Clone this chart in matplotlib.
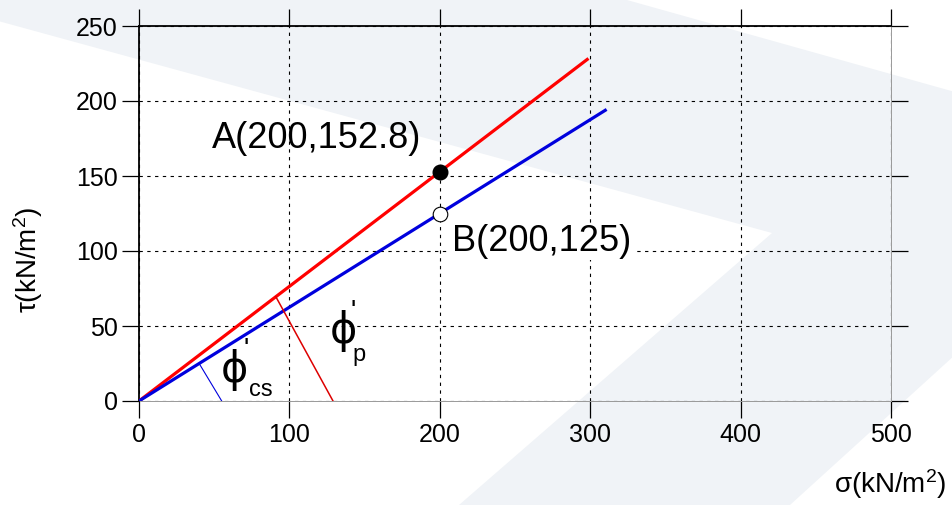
import matplotlib
matplotlib.use('Agg')
import matplotlib.pyplot as plt
from matplotlib.patches import Polygon

plt.rcParams['font.family'] = ['Liberation Sans', 'DejaVu Sans']
plt.rcParams['mathtext.fontset'] = 'custom'
plt.rcParams['mathtext.rm'] = 'Liberation Sans'
plt.rcParams['mathtext.it'] = 'Liberation Sans:italic'
plt.rcParams['mathtext.default'] = 'regular'

# failure envelopes (sigma, tau) in kN/m^2
peak_sigma = [0, 298]
peak_tau = [0, 227.7]
cs_sigma = [0, 310]
cs_tau = [0, 193.8]

# test points
point_A = (200, 152.8)
point_B = (200, 125)

# little strokes marking the friction angles
phi_p_sigma = [91, 129]
phi_p_tau = [69.5, 0]
phi_cs_sigma = [40, 55]
phi_cs_tau = [25, 0]

x_ticks = [0, 100, 200, 300, 400, 500]
y_ticks = [0, 50, 100, 150, 200, 250]

W, H = 952, 505
fig = plt.figure(figsize=(W / 100, H / 100), dpi=100)
fig.patch.set_facecolor('white')

# pale chevron in the background (pixel coords, y down)
chev = [(0, 0), (0, 21.5), (772, 233), (459, 505), (790, 505),
        (1176, 154), (627, 0)]
chev = [(px / W, 1 - py / H) for px, py in chev]
fig.patches.append(Polygon(chev, closed=True, transform=fig.transFigure,
                           facecolor='#f0f3f7', edgecolor='none', zorder=-1))

ax = fig.add_axes([139 / W, 1 - 401 / H, (891 - 139) / W, (401 - 26) / H])
ax.set_facecolor('none')
ax.set_xlim(0, 500)
ax.set_ylim(0, 250)

ax.set_xticks(x_ticks)
ax.set_yticks(y_ticks)
ax.tick_params(axis='both', which='both', direction='out', length=12.2,
               width=0.9, color='black', labelsize=18, pad=3,
               top=True, right=True, labeltop=False, labelright=False)
ax.tick_params(axis='x', pad=4)

ax.grid(True, color='black', linestyle=(0, (3, 4)), linewidth=0.8)
ax.set_axisbelow(True)
for side in ['top', 'left']:
    ax.spines[side].set_color('black')
    ax.spines[side].set_linewidth(1.3)
    ax.spines[side].set_zorder(2.6)
for side in ['bottom', 'right']:
    ax.spines[side].set_color('#999999')
    ax.spines[side].set_linewidth(0.7)

ax.plot(peak_sigma, peak_tau, color='#ff0000', lw=2.3, zorder=3)
ax.plot(cs_sigma, cs_tau, color='#0000dd', lw=2.3, zorder=3)
ax.plot(phi_p_sigma, phi_p_tau, color='#dd0000', lw=1.1, zorder=3)
ax.plot(phi_cs_sigma, phi_cs_tau, color='#0000dd', lw=0.8, zorder=3)

ax.plot(*point_A, 'o', ms=10.5, color='black', zorder=4)
ax.plot(*point_B, 'o', ms=10.5, mfc='white', mec='black', mew=0.8, zorder=4)

ax.text(48.5, 168.7, 'A(%d,%.1f)' % point_A, fontsize=26, ha='left',
        va='baseline', zorder=5)
ax.text(208, 100, 'B(%d,%d)' % point_B, fontsize=26, ha='left',
        va='baseline', zorder=5,
        bbox=dict(facecolor='white', edgecolor='none', pad=1))

# friction angle labels
ax.text(135.6, 46.7, 'ϕ', fontsize=30, ha='center',
        va='center', family='DejaVu Sans', zorder=5)
ax.text(142.5, 59, "'", fontsize=20, ha='center', va='center', zorder=5)
ax.text(146, 31, 'p', fontsize=17, ha='center', va='center', zorder=5)
ax.text(63.2, 20.7, 'ϕ', fontsize=30, ha='center',
        va='center', family='DejaVu Sans', zorder=5)
ax.text(71, 34, "'", fontsize=20, ha='center', va='center', zorder=5)
ax.text(81, 7, 'cs', fontsize=17, ha='center', va='center', zorder=5)

fig.text(0.03, 0.485, r'τ(kN/m$^2$)', rotation=90, fontsize=20,
         ha='center', va='center')
fig.text(947 / W, 1 - 493 / H, r'σ(kN/m$^2$)', fontsize=20,
         ha='right', va='baseline')

fig.savefig('out.png', dpi=100)
